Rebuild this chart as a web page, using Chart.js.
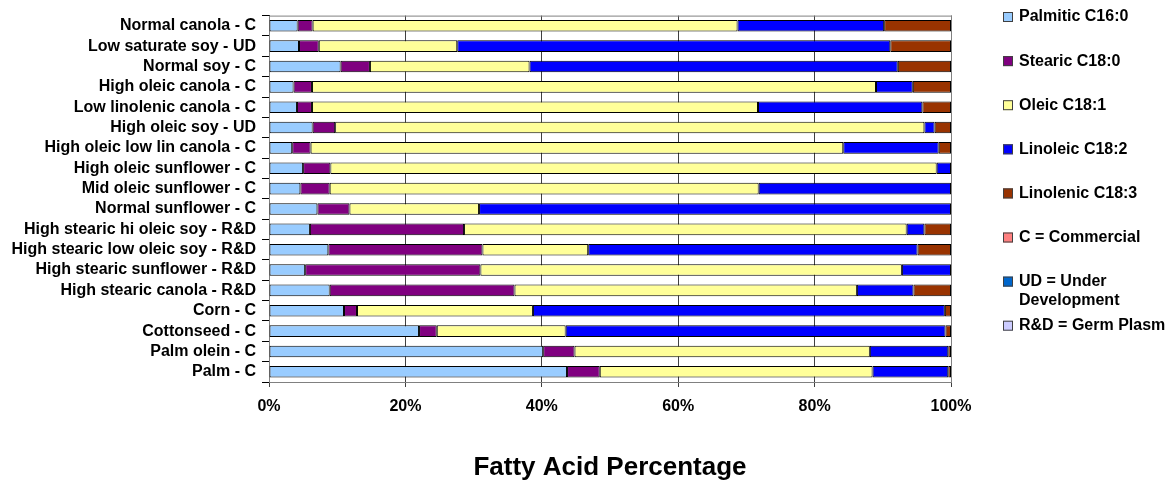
<!DOCTYPE html>
<html>
<head>
<meta charset="utf-8">
<title>Fatty Acid Percentage</title>
<script src="https://cdn.jsdelivr.net/npm/chart.js@4.4.1/dist/chart.umd.min.js"></script>
<style>
  body { margin: 0; background: #fff; }
  #wrap { width: 1174px; height: 483px; }
</style>
</head>
<body>
<div id="wrap"><canvas id="myChart" width="1174" height="483"></canvas></div>
<script>
// Oil types, top to bottom as they appear on the chart
const categories = [
  "Normal canola - C",
  "Low saturate soy - UD",
  "Normal soy - C",
  "High oleic canola - C",
  "Low linolenic canola - C",
  "High oleic soy - UD",
  "High oleic low lin canola - C",
  "High oleic sunflower - C",
  "Mid oleic sunflower - C",
  "Normal sunflower - C",
  "High stearic hi oleic soy - R&D",
  "High stearic low oleic soy - R&D",
  "High stearic sunflower - R&D",
  "High stearic canola - R&D",
  "Corn - C",
  "Cottonseed - C",
  "Palm olein - C",
  "Palm - C"
];

// Share of each fatty acid, in percent
const palmitic  = [4.2, 4.4, 10.5, 3.6, 4.1, 6.4, 3.4, 5.0, 4.6, 7.1, 6.0, 8.7, 5.3, 8.9, 11.0, 22.0, 40.2, 43.7];
const stearic   = [2.2, 2.9, 4.3, 2.7, 2.2, 3.3, 2.7, 4.0, 4.3, 4.7, 22.6, 22.6, 25.7, 27.1, 1.9, 2.6, 4.6, 4.8];
const oleic     = [62.3, 20.3, 23.4, 82.7, 65.4, 86.4, 78.1, 88.9, 62.9, 19.0, 64.9, 15.5, 61.8, 50.2, 25.8, 18.9, 43.3, 40.0];
const linoleic  = [21.5, 63.5, 54.0, 5.4, 24.1, 1.5, 14.0, 2.1, 28.2, 69.2, 2.6, 48.3, 7.2, 8.3, 60.4, 55.7, 11.5, 11.1];
const linolenic = [9.8, 8.9, 7.8, 5.6, 4.2, 2.4, 1.8, 0, 0, 0, 3.9, 4.9, 0, 5.5, 0.9, 0.8, 0.4, 0.4];

// Legend only entries (no bars)
const noteLabels = ["C = Commercial", "UD = Under Development", "R&D = Germ Plasm"];

const xTicks = [0, 20, 40, 60, 80, 100];

const FONT = '"Liberation Sans", Arial, Helvetica, sans-serif';
Chart.defaults.font.family = FONT;
Chart.defaults.font.weight = "bold";
Chart.defaults.font.size = 16;
Chart.defaults.color = "#000";

// Gray frame round the plot area, like the Excel original
const plotFrame = {
  id: "plotFrame",
  beforeDatasetsDraw(chart) {
    const { ctx, chartArea: a } = chart;
    ctx.save();
    ctx.strokeStyle = "#808080";
    ctx.lineWidth = 1;
    ctx.strokeRect(a.left + 0.5, a.top + 0.5, a.right - a.left, a.bottom - a.top);
    ctx.restore();
  }
};

// Legend drawn by hand: wraps long labels and spaces items evenly down the right side
const sideLegend = {
  id: "sideLegend",
  afterDraw(chart) {
    const ctx = chart.ctx;
    const x = 1003, textX = 1019, maxW = 152;
    let y = 17;
    ctx.save();
    ctx.font = "bold 16px " + FONT;
    ctx.textBaseline = "middle";
    ctx.textAlign = "left";
    chart.data.datasets.forEach(ds => {
      ctx.fillStyle = ds.backgroundColor;
      ctx.fillRect(x, y - 5, 10, 10);
      ctx.strokeStyle = "#404040";
      ctx.lineWidth = 1;
      ctx.strokeRect(x + 0.5, y - 4.5, 9, 9);

      // simple word wrap
      const words = ds.label.split(" ");
      const lines = [];
      let line = "";
      words.forEach(w => {
        const test = line ? line + " " + w : w;
        if (ctx.measureText(test).width > maxW && line) {
          lines.push(line);
          line = w;
        } else {
          line = test;
        }
      });
      lines.push(line);

      ctx.fillStyle = "#000";
      lines.forEach((l, i) => ctx.fillText(l, textX, y + i * 19));
      y += 44.1;
    });
    ctx.restore();
  }
};

const colors = ["#99CCFF", "#800080", "#FFFF99", "#0000FF", "#993300"];
const noteColors = ["#FF8080", "#0066CC", "#CCCCFF"];

const series = [
  { label: "Palmitic C16:0", data: palmitic },
  { label: "Stearic C18:0", data: stearic },
  { label: "Oleic C18:1", data: oleic },
  { label: "Linoleic C18:2", data: linoleic },
  { label: "Linolenic C18:3", data: linolenic }
];

const datasets = series.map((s, i) => ({
  label: s.label,
  data: s.data,
  backgroundColor: colors[i],
  borderColor: "#000",
  borderWidth: 1,
  borderSkipped: false,
  categoryPercentage: 0.57,
  barPercentage: 1
}));

noteLabels.forEach((l, i) => {
  datasets.push({
    label: l,
    data: [],
    backgroundColor: noteColors[i],
    borderColor: "#000",
    borderWidth: 1
  });
});

const ctx = document.getElementById("myChart").getContext("2d");

new Chart(ctx, {
  type: "bar",
  data: { labels: categories, datasets: datasets },
  options: {
    indexAxis: "y",
    responsive: false,
    animation: false,
    devicePixelRatio: 1,
    layout: { padding: { top: 11, right: 223, bottom: 0, left: 0 } },
    plugins: {
      legend: { display: false },
      tooltip: { enabled: false }
    },
    scales: {
      x: {
        stacked: true,
        min: 0,
        max: 100,
        afterBuildTicks(scale) {
          scale.ticks = xTicks.map(v => ({ value: v }));
        },
        afterFit(scale) { scale.height = 101; },
        ticks: {
          padding: 10,
          font: { size: 16, weight: "bold" },
          callback: v => v + "%"
        },
        grid: { color: "#404040", lineWidth: 1, tickLength: 5 },
        border: { color: "#000", width: 1 },
        title: {
          display: true,
          text: "Fatty Acid Percentage",
          font: { size: 26, weight: "bold" },
          padding: { top: 0, bottom: 0 }
        }
      },
      y: {
        stacked: true,
        afterFit(scale) { scale.width = 269; },
        ticks: { padding: 6, font: { size: 16, weight: "bold" }, autoSkip: false },
        grid: { drawOnChartArea: false, color: "#000", tickLength: 7, offset: true },
        border: { color: "#000", width: 1 }
      }
    }
  },
  plugins: [plotFrame, sideLegend]
});
</script>
</body>
</html>
